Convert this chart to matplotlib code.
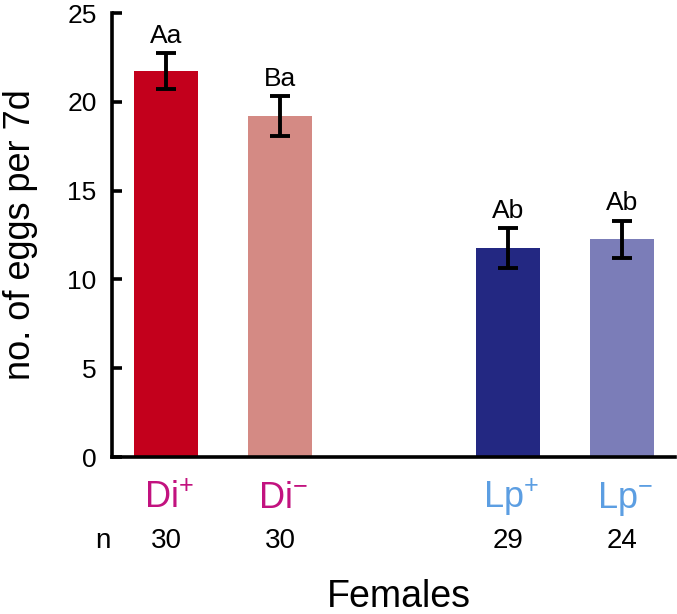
"""Egg production per female over 7 days, by female type."""

import numpy as np
from matplotlib import pyplot as plt

plt.rcParams['font.family'] = ['Liberation Sans', 'DejaVu Sans']
plt.rcParams['mathtext.fontset'] = 'custom'
plt.rcParams['mathtext.rm'] = 'Liberation Sans'

# Data
groups = [r'Di$^{+}$', r'Di$^{-}$', r'Lp$^{+}$', r'Lp$^{-}$']
positions = [0, 1, 3, 4]
means = [21.73, 19.2, 11.75, 12.26]
errors = [1.0, 1.12, 1.12, 1.03]
letters = ['Aa', 'Ba', 'Ab', 'Ab']
n_counts = ['30', '30', '29', '24']

bar_colors = ['#c3001c', '#d48a84', '#232882', '#7b7db8']
label_colors = ['#c2127f', '#c2127f', '#5c9ee2', '#5c9ee2']

fig = plt.figure(figsize=(6.77, 6.14), dpi=100)
ax = fig.add_axes([0.1654, 0.2557, 0.8316, 0.7231])

ax.bar(positions, means, width=0.56, color=bar_colors, zorder=1)
ax.errorbar(positions, means, yerr=errors, fmt='none', ecolor='black',
            elinewidth=2.8, capsize=7.5, capthick=2.8, zorder=2)

# Significance letters above the error bars
for x, m, e, lab in zip(positions, means, errors, letters):
    ax.annotate(lab, (x, m + e), xytext=(0, 4), textcoords='offset points',
                ha='center', va='bottom', fontsize=19)

ax.set_xlim(-0.474, 4.465)
ax.set_ylim(0, 25)
ax.set_yticks([0, 5, 10, 15, 20, 25])
ax.set_xticks([])
ax.tick_params(axis='y', direction='in', length=7, width=2.6, pad=11,
               labelsize=19)

for side in ['top', 'right']:
    ax.spines[side].set_visible(False)
for side in ['left', 'bottom']:
    ax.spines[side].set_linewidth(2.6)

ax.set_ylabel('no. of eggs per 7d', fontsize=26)
ax.yaxis.set_label_coords(-0.132, 0.5)

# Group names and sample sizes under the bars
trans = ax.get_xaxis_transform()
for x, name, col, n in zip(positions, groups, label_colors, n_counts):
    ax.text(x + 0.03, -0.115, name, transform=trans, ha='center',
            va='baseline', fontsize=26, color=col)
    ax.text(x, -0.205, n, transform=trans, ha='center', va='baseline',
            fontsize=20)
ax.text(-0.002, -0.205, 'n', transform=ax.transAxes, ha='right',
        va='baseline', fontsize=20)

ax.text(0.51, -0.338, 'Females', transform=ax.transAxes, ha='center',
        va='baseline', fontsize=27)

fig.savefig('out.png', dpi=100)
